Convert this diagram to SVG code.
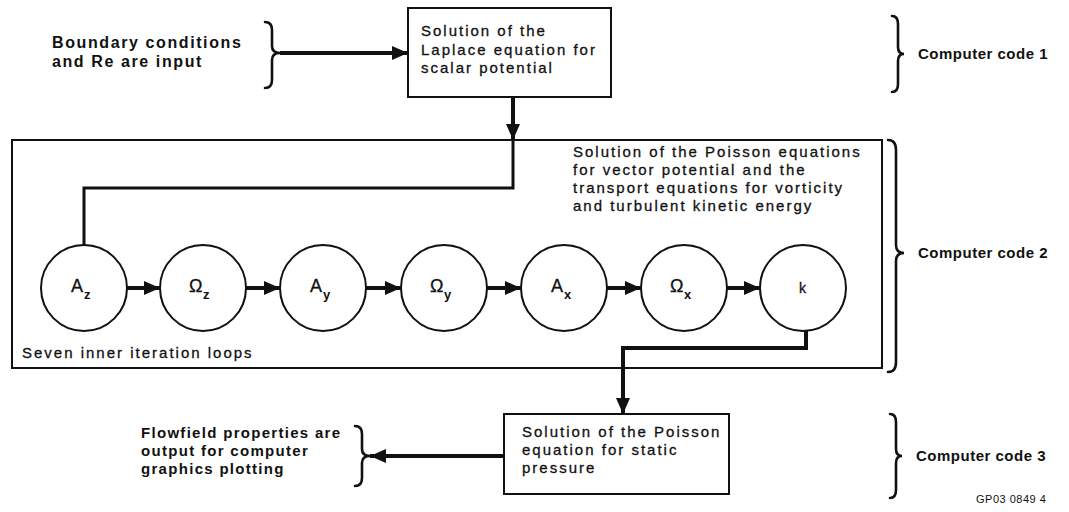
<svg xmlns="http://www.w3.org/2000/svg" width="1069" height="512" viewBox="0 0 1069 512">
<style>
text{font-family:"Liberation Sans",Arial,sans-serif;fill:#111}
.lbl{font-size:15px;font-weight:bold;letter-spacing:1.3px}
.lbl2{font-size:16px;font-weight:bold;letter-spacing:1.6px}
.box{font-size:15px;letter-spacing:2px;stroke:#111;stroke-width:0.3}
.code{font-size:15px;font-weight:bold;letter-spacing:0.5px}
.sym{font-size:18px;stroke:#111;stroke-width:0.3}
.sub{font-size:13px;font-weight:bold}
.node{fill:#fff;stroke:#111;stroke-width:2}
.frame{fill:none;stroke:#111;stroke-width:2}
.wire{fill:none;stroke:#111;stroke-width:4}
.brace{fill:none;stroke:#111;stroke-width:2.6;stroke-linecap:round}
</style>
<defs>
<marker id="ah" markerUnits="userSpaceOnUse" markerWidth="16" markerHeight="14" refX="16" refY="7" orient="auto">
<path d="M0,0 L16,7 L0,14 z" fill="#111"/>
</marker>
</defs>
<rect width="1069" height="512" fill="#fff"/>

<g id="frame-code2">
<rect class="frame" x="12" y="140" width="870" height="228"/>
<text class="box" x="573" y="157">Solution of the Poisson equations</text>
<text class="box" x="573" y="175">for vector potential and the</text>
<text class="box" x="573" y="193">transport equations for vorticity</text>
<text class="box" x="573" y="211">and turbulent kinetic energy</text>
<text class="box" x="22" y="358">Seven inner iteration loops</text>
</g>

<g id="input-label">
<text class="lbl2" x="52" y="48">Boundary conditions</text>
<text class="lbl2" x="52" y="67">and Re are input</text>
<path class="brace" d="M265,22 Q272,22 272,30 L272,46 Q272,53 280,53 Q272,53 272,60 L272,80 Q272,88 265,88"/>
</g>

<g id="box-laplace">
<rect class="node" x="408" y="8" width="203" height="89"/>
<text class="box" x="421" y="36">Solution of the</text>
<text class="box" x="421" y="55">Laplace equation for</text>
<text class="box" x="421" y="73">scalar potential</text>
</g>

<g id="code1">
<path class="brace" d="M892,16 Q898,16 898,24 L898,47 Q898,54 904,54 Q898,54 898,61 L898,84 Q898,92 892,92"/>
<text class="code" x="918" y="59">Computer code 1</text>
</g>
<g id="code2">
<path class="brace" d="M888,140 Q896,140 896,150 L896,245 Q896,253 904,253 Q896,253 896,261 L896,362 Q896,372 888,372"/>
<text class="code" x="918" y="258">Computer code 2</text>
</g>
<g id="code3">
<path class="brace" d="M890,414 Q896,414 896,422 L896,449 Q896,456 902,456 Q896,456 896,463 L896,490 Q896,498 890,498"/>
<text class="code" x="916" y="461">Computer code 3</text>
</g>

<g id="node-Az"><circle class="node" cx="84" cy="288" r="43"/><text class="sym" x="71" y="292">A</text><text class="sub" x="84" y="299">z</text></g>
<g id="node-Oz"><circle class="node" cx="203" cy="288" r="43"/><text class="sym" x="189" y="292">Ω</text><text class="sub" x="203" y="299">z</text></g>
<g id="node-Ay"><circle class="node" cx="323" cy="288" r="43"/><text class="sym" x="310" y="292">A</text><text class="sub" x="323" y="299">y</text></g>
<g id="node-Oy"><circle class="node" cx="444" cy="288" r="43"/><text class="sym" x="430" y="292">Ω</text><text class="sub" x="444" y="299">y</text></g>
<g id="node-Ax"><circle class="node" cx="564" cy="288" r="43"/><text class="sym" x="551" y="292">A</text><text class="sub" x="564" y="299">x</text></g>
<g id="node-Ox"><circle class="node" cx="684" cy="288" r="43"/><text class="sym" x="670" y="292">Ω</text><text class="sub" x="684" y="299">x</text></g>
<g id="node-k"><circle class="node" cx="803" cy="288" r="43"/><text class="sym" x="799" y="293" style="font-size:14px">k</text></g>

<g id="box-pressure">
<rect class="node" x="504" y="414" width="225" height="80"/>
<text class="box" x="522" y="437">Solution of the Poisson</text>
<text class="box" x="522" y="455">equation for static</text>
<text class="box" x="522" y="473">pressure</text>
</g>

<g id="output-label">
<text class="lbl" x="141" y="438">Flowfield properties are</text>
<text class="lbl" x="141" y="456">output for computer</text>
<text class="lbl" x="141" y="474">graphics plotting</text>
<path class="brace" d="M355,426 Q362,426 362,434 L362,449 Q362,456 370,456 Q362,456 362,463 L362,478 Q362,486 355,486"/>
</g>

<text x="976" y="503" style="font-size:11px;letter-spacing:0.5px">GP03 0849 4</text>

<g id="connectors">
<path class="wire" d="M280,53 L408,53" marker-end="url(#ah)"/>
<path class="wire" d="M513,97 L513,140" marker-end="url(#ah)"/>
<path class="wire" d="M513,140 L513,188 L84,188 L84,245" style="stroke-width:3"/>
<path class="wire" d="M127,288 L160,288" marker-end="url(#ah)"/>
<path class="wire" d="M246,288 L280,288" marker-end="url(#ah)"/>
<path class="wire" d="M366,288 L401,288" marker-end="url(#ah)"/>
<path class="wire" d="M487,288 L521,288" marker-end="url(#ah)"/>
<path class="wire" d="M607,288 L641,288" marker-end="url(#ah)"/>
<path class="wire" d="M727,288 L760,288" marker-end="url(#ah)"/>
<path class="wire" d="M806,331 L806,348 L623,348 L623,414" marker-end="url(#ah)"/>
<path class="wire" d="M504,456 L370,456" marker-end="url(#ah)"/>
</g>
</svg>
